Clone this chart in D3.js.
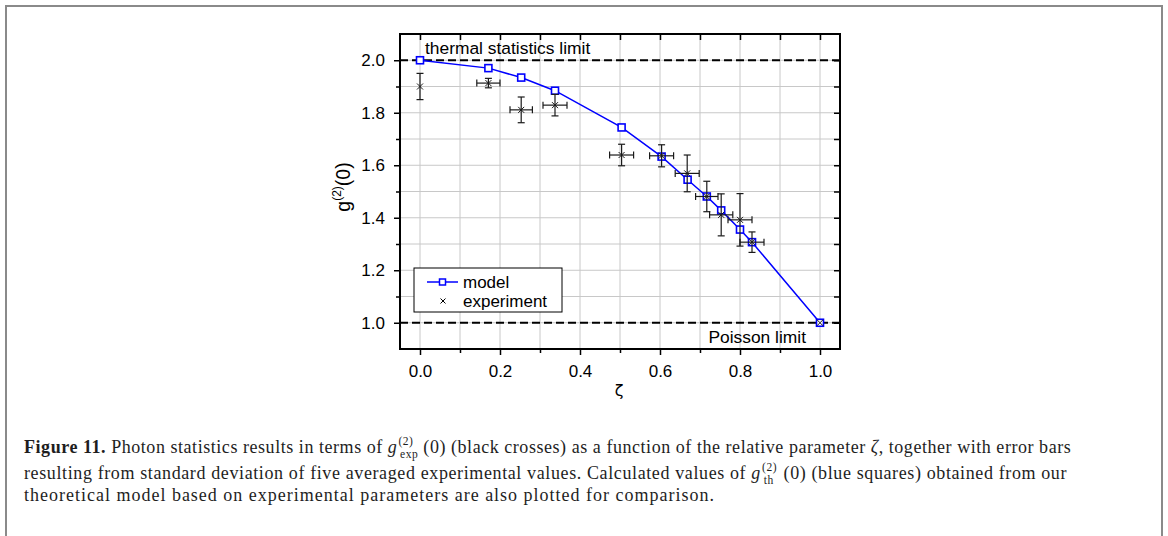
<!DOCTYPE html>
<html>
<head>
<meta charset="utf-8">
<script src="https://cdn.jsdelivr.net/npm/d3@7"></script>
<style>
  html, body { margin: 0; padding: 0; background: #fff; }
  svg { display: block; }
</style>
</head>
<body>
<svg id="chart" width="1168" height="536"></svg>
<script>
// ---------- data ----------
const modelX = [0.0, 0.171, 0.253, 0.3375, 0.504, 0.604, 0.669, 0.717, 0.753, 0.800, 0.830, 1.0];
const modelY = [2.0, 1.970, 1.934, 1.884, 1.744, 1.633, 1.545, 1.481, 1.428, 1.355, 1.307, 1.0];
const expX    = [0.0, 0.171, 0.253, 0.3375, 0.504, 0.604, 0.668, 0.717, 0.753, 0.800, 0.830, 1.0];
const expY    = [1.900, 1.913, 1.811, 1.829, 1.639, 1.636, 1.569, 1.481, 1.411, 1.392, 1.307, 1.0];
const expYErr = [0.050, 0.018, 0.049, 0.041, 0.041, 0.042, 0.070, 0.058, 0.080, 0.100, 0.039, 0];
const expXErr = [0, 0.029, 0.028, 0.030, 0.030, 0.030, 0.030, 0.028, 0.029, 0.030, 0.030, 0];
const xMajorTicks = [0.0, 0.2, 0.4, 0.6, 0.8, 1.0];
const yMajorTicks = [1.0, 1.2, 1.4, 1.6, 1.8, 2.0];
const xMinorTicks = [0.1, 0.3, 0.5, 0.7, 0.9];
const yMinorTicks = [1.1, 1.3, 1.5, 1.7, 1.9];
const limits = [2.0, 1.0];
const legendLabels = ["model", "experiment"];

// ---------- layout ----------
const svg = d3.select("#chart");
const L = 400, R = 840, T = 34, B = 349;
const x = d3.scaleLinear().domain([-0.05, 1.05]).range([L, R]);
const y = d3.scaleLinear().domain([0.9, 2.1]).range([B, T]);
const sans = "'Liberation Sans', Arial, sans-serif";
const serif = "'Liberation Serif', 'Times New Roman', serif";
const FS = 17;

// outer border
svg.append("path")
  .attr("d", "M6,540 V6 H1162 V540")
  .attr("fill", "none").attr("stroke", "#8a8a8a").attr("stroke-width", 2);

// grid
const allX = xMajorTicks.concat(xMinorTicks);
const allY = yMajorTicks.concat(yMinorTicks);
const grid = svg.append("g");
grid.selectAll("line.gx").data(allX).join("line")
  .attr("x1", d => x(d)).attr("x2", d => x(d)).attr("y1", T).attr("y2", B)
  .attr("stroke", "#c8c8c8").attr("stroke-width", 1);
grid.selectAll("line.gy").data(allY).join("line")
  .attr("y1", d => y(d)).attr("y2", d => y(d)).attr("x1", L).attr("x2", R)
  .attr("stroke", "#c8c8c8").attr("stroke-width", 1);

// limit lines
svg.append("g").selectAll("line").data(limits).join("line")
  .attr("x1", L).attr("x2", R).attr("y1", d => y(d)).attr("y2", d => y(d))
  .attr("stroke", "#000").attr("stroke-width", 2).attr("stroke-dasharray", "8,4");

// axes
function styleAxis(g) {
  g.select(".domain").remove();
  g.selectAll(".tick line").attr("stroke", "#000").attr("stroke-width", 1.5);
  g.selectAll(".tick text").attr("font-family", sans).attr("font-size", FS).attr("fill", "#000");
}
const fmt = d3.format(".1f");
svg.append("g").attr("transform", `translate(0,${B})`)
  .call(d3.axisBottom(x).tickValues(xMajorTicks).tickFormat(fmt).tickSize(6).tickPadding(10)).call(styleAxis);
svg.append("g").attr("transform", `translate(0,${B})`)
  .call(d3.axisBottom(x).tickValues(xMinorTicks).tickFormat("").tickSize(4)).call(styleAxis);
svg.append("g").attr("transform", `translate(${L},0)`)
  .call(d3.axisLeft(y).tickValues(yMajorTicks).tickFormat(fmt).tickSize(6).tickPadding(9)).call(styleAxis);
svg.append("g").attr("transform", `translate(${L},0)`)
  .call(d3.axisLeft(y).tickValues(yMinorTicks).tickFormat("").tickSize(4)).call(styleAxis);
// mirrored inward ticks
svg.append("g").attr("transform", `translate(0,${T})`)
  .call(d3.axisTop(x).tickValues(allX).tickFormat("").tickSize(-6)).call(styleAxis);
svg.append("g").attr("transform", `translate(${R},0)`)
  .call(d3.axisRight(y).tickValues(allY).tickFormat("").tickSize(-6)).call(styleAxis);

// frame
svg.append("rect").attr("x", L).attr("y", T).attr("width", R - L).attr("height", B - T)
  .attr("fill", "none").attr("stroke", "#000").attr("stroke-width", 2);

// limit labels
svg.append("text").attr("x", 425).attr("y", 54).attr("font-family", sans).attr("font-size", 17.4)
  .text("thermal statistics limit");
svg.append("text").attr("x", 806).attr("y", 343).attr("text-anchor", "end").attr("font-family", sans).attr("font-size", 17.4)
  .text("Poisson limit");

// model line
const model = modelX.map((v, i) => [v, modelY[i]]);
svg.append("path").datum(model)
  .attr("d", d3.line().x(d => x(d[0])).y(d => y(d[1])))
  .attr("fill", "none").attr("stroke", "#0000ff").attr("stroke-width", 1.5);
svg.append("g").selectAll("rect").data(model).join("rect")
  .attr("x", d => x(d[0]) - 3.5).attr("y", d => y(d[1]) - 3.5).attr("width", 7).attr("height", 7)
  .attr("fill", "#fff").attr("stroke", "#0000ff").attr("stroke-width", 1.6);

// experiment with error bars
const exp = expX.map((v, i) => ({ x: v, y: expY[i], ex: expXErr[i], ey: expYErr[i] }));
const eg = svg.append("g").attr("stroke", "#1a1a1a").attr("stroke-width", 1.2).attr("fill", "none");
const cap = 3.5;
exp.forEach(d => {
  const cx = x(d.x), cy = y(d.y);
  if (d.ey > 0) {
    const y1 = y(d.y + d.ey), y2 = y(d.y - d.ey);
    eg.append("line").attr("x1", cx).attr("x2", cx).attr("y1", y1).attr("y2", y2);
    eg.append("line").attr("x1", cx - cap).attr("x2", cx + cap).attr("y1", y1).attr("y2", y1);
    eg.append("line").attr("x1", cx - cap).attr("x2", cx + cap).attr("y1", y2).attr("y2", y2);
  }
  if (d.ex > 0) {
    const x1 = x(d.x - d.ex), x2 = x(d.x + d.ex);
    eg.append("line").attr("x1", x1).attr("x2", x2).attr("y1", cy).attr("y2", cy);
    eg.append("line").attr("x1", x1).attr("x2", x1).attr("y1", cy - cap).attr("y2", cy + cap);
    eg.append("line").attr("x1", x2).attr("x2", x2).attr("y1", cy - cap).attr("y2", cy + cap);
  }
  const s = 3;
  eg.append("line").attr("x1", cx - s).attr("x2", cx + s).attr("y1", cy - s).attr("y2", cy + s).attr("stroke-width", 1);
  eg.append("line").attr("x1", cx - s).attr("x2", cx + s).attr("y1", cy + s).attr("y2", cy - s).attr("stroke-width", 1);
});

// axis titles
const yt = svg.append("text").attr("transform", "translate(350,187) rotate(-90)")
  .attr("text-anchor", "middle").attr("font-family", sans).attr("font-size", 19.5);
yt.append("tspan").text("g");
yt.append("tspan").attr("font-size", 12).attr("dy", -9).text("(2)");
yt.append("tspan").attr("dy", 9).text("(0)");
svg.append("text").attr("x", 619).attr("y", 396).attr("text-anchor", "middle")
  .attr("font-family", "'DejaVu Sans', sans-serif").attr("font-size", 16).text("ζ");

// legend
const lg = svg.append("g");
lg.append("rect").attr("x", 414).attr("y", 268).attr("width", 148).attr("height", 44)
  .attr("fill", "#fff").attr("stroke", "#000").attr("stroke-width", 1);
lg.append("line").attr("x1", 427).attr("x2", 458).attr("y1", 282).attr("y2", 282)
  .attr("stroke", "#0000ff").attr("stroke-width", 1.5);
lg.append("rect").attr("x", 439.5).attr("y", 279).attr("width", 6).attr("height", 6)
  .attr("fill", "#fff").attr("stroke", "#0000ff").attr("stroke-width", 1.5);
lg.append("line").attr("x1", 440.5).attr("x2", 445.5).attr("y1", 298.5).attr("y2", 303.5).attr("stroke", "#000");
lg.append("line").attr("x1", 440.5).attr("x2", 445.5).attr("y1", 303.5).attr("y2", 298.5).attr("stroke", "#000");
lg.selectAll("text").data(legendLabels).join("text")
  .attr("x", 463).attr("y", (d, i) => 288 + i * 19)
  .attr("font-family", sans).attr("font-size", FS).text(d => d);

// ---------- caption ----------
const cap0 = svg.append("g");
const measure = svg.append("text").attr("font-family", serif).attr("visibility", "hidden");
function width(t, size, style, weight) {
  measure.attr("font-size", size).attr("font-style", style || "normal").attr("font-weight", weight || "normal").text(t);
  return measure.node().getComputedTextLength();
}
const line3 = "theoretical model based on experimental parameters are also plotted for comparison.";
const fs = 18;
const ss = fs * 0.64;

const lines = [
  { y: 453, right: 1068, segs: [
    { t: "Figure 11.", w: "bold" },
    { t: " Photon statistics results in terms of " },
    { t: "g", s: "italic" },
    { script: ["(2)", "exp"] },
    { t: " (0) (black crosses) as a function of the relative parameter " },
    { t: "ζ", s: "italic" },
    { t: ", together with error bars" } ] },
  { y: 479, right: 1064, segs: [
    { t: "resulting from standard deviation of five averaged experimental values. Calculated values of " },
    { t: "g", s: "italic" },
    { script: ["(2)", "th"] },
    { t: " (0) (blue squares) obtained from our" } ] },
  { y: 501, right: 715, segs: [ { t: line3 } ] }
];

lines.forEach(line => {
  const te = cap0.append("text").attr("x", 24).attr("y", line.y)
    .attr("font-family", serif).attr("font-size", fs).attr("fill", "#1e1e1e");
  let pendingDx = 0, afterScript = false, nChars = 0;
  line.segs.forEach(sg => {
    if (sg.script) {
      const wSup = width(sg.script[0], ss), wSub = width(sg.script[1], ss);
      te.append("tspan").attr("font-size", ss).attr("dx", 1).attr("dy", -fs * 0.42).text(sg.script[0]);
      te.append("tspan").attr("font-size", ss).attr("dx", -wSup).attr("dy", fs * 0.68).text(sg.script[1]);
      pendingDx = Math.max(0, wSup - wSub);
      afterScript = true;
    } else {
      const ts = te.append("tspan").text(sg.t)
        .attr("font-style", sg.s || null).attr("font-weight", sg.w || null);
      if (afterScript) { ts.attr("dx", pendingDx).attr("dy", -fs * 0.26); afterScript = false; }
      nChars += sg.t.length;
      pendingDx = 0;
    }
  });
  const w0 = te.node().getBBox().width;
  const extra = (line.right - 24) - w0;
  te.attr("letter-spacing", extra / nChars);
});
measure.remove();
</script>
</body>
</html>
